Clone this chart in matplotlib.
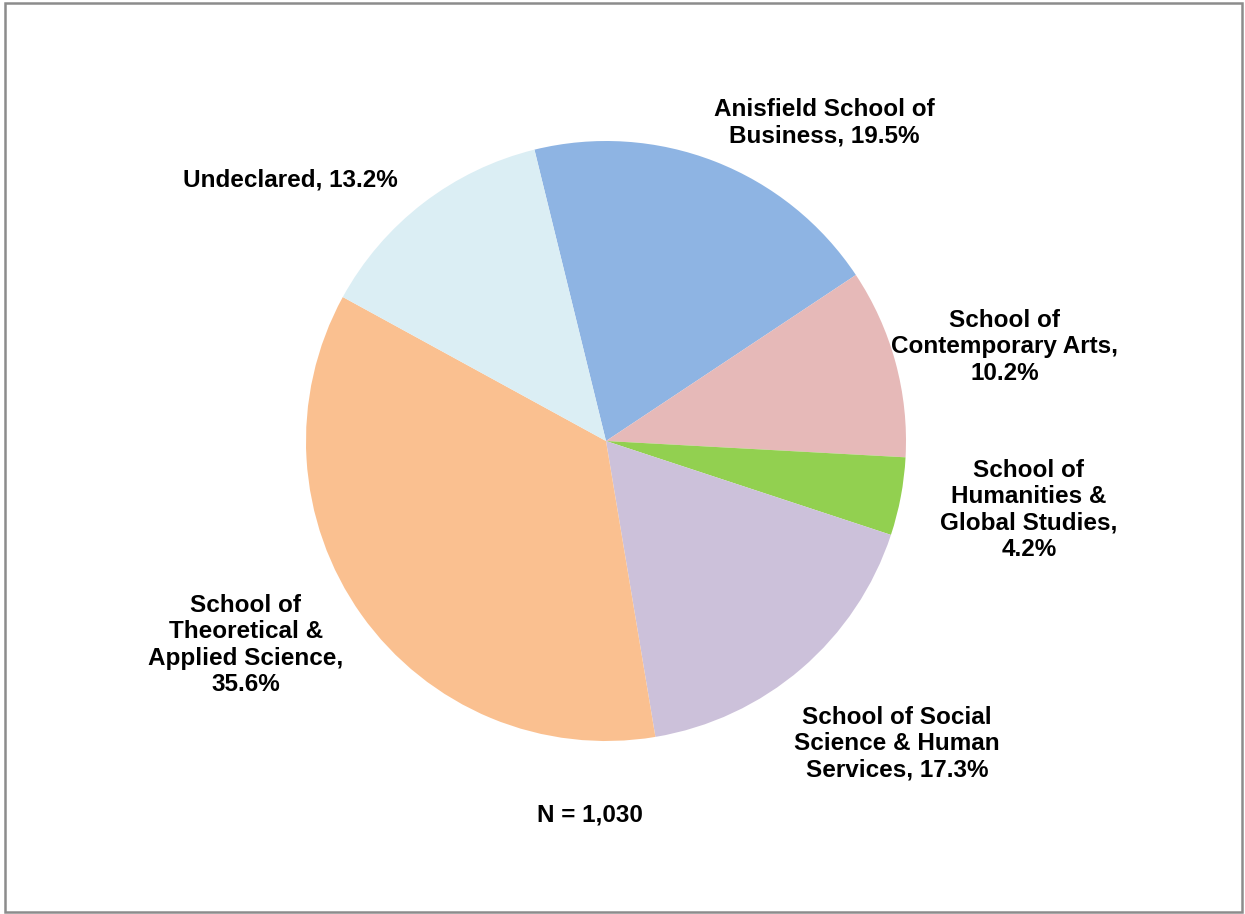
import matplotlib
matplotlib.use("Agg")
import matplotlib.pyplot as plt
from matplotlib.patches import Rectangle

categories = ["Anisfield School of\nBusiness, 19.5%",
              "School of\nContemporary Arts,\n10.2%",
              "School of\nHumanities &\nGlobal Studies,\n4.2%",
              "School of Social\nScience & Human\nServices, 17.3%",
              "School of\nTheoretical &\nApplied Science,\n35.6%",
              "Undeclared, 13.2%"]
values = [19.5, 10.2, 4.2, 17.3, 35.6, 13.2]
colors = ["#8EB4E3", "#E6B9B8", "#92D050", "#CCC1DA", "#FAC090", "#DBEEF4"]
# label centers in pixel coordinates of the reference image
label_px = [(824, 123), (1005, 347), (1029, 510), (897, 744), (246, 645), (290, 180)]
note = "N = 1,030"

W, H = 1245, 914
cx, cy, R = 606, 441, 300

plt.rcParams['font.family'] = ['Liberation Sans', 'DejaVu Sans']
fig = plt.figure(figsize=(W / 100, H / 100), dpi=100)
ax = fig.add_axes([0, 0, 1, 1])
ax.pie(values, colors=colors, startangle=103.8, counterclock=False,
       wedgeprops=dict(linewidth=0))
ax.set_xlim(-cx / R, (W - cx) / R)
ax.set_ylim((cy - H) / R, cy / R)
ax.set_aspect('auto')
ax.axis('off')

for lab, (px, py) in zip(categories, label_px):
    ax.text((px - cx) / R, (cy - py) / R, lab, ha='center', va='center',
            fontsize=17.5, fontweight='bold', linespacing=1.17)
ax.text((590 - cx) / R, (cy - 815) / R, note, ha='center', va='center',
        fontsize=17.5, fontweight='bold')

fig.add_artist(Rectangle((5.5 / W, 2.5 / H), 1236 / W, 909 / H,
                         transform=fig.transFigure, fill=False,
                         edgecolor='#8C8C8C', linewidth=1.8))

fig.savefig("out.png", dpi=100)
